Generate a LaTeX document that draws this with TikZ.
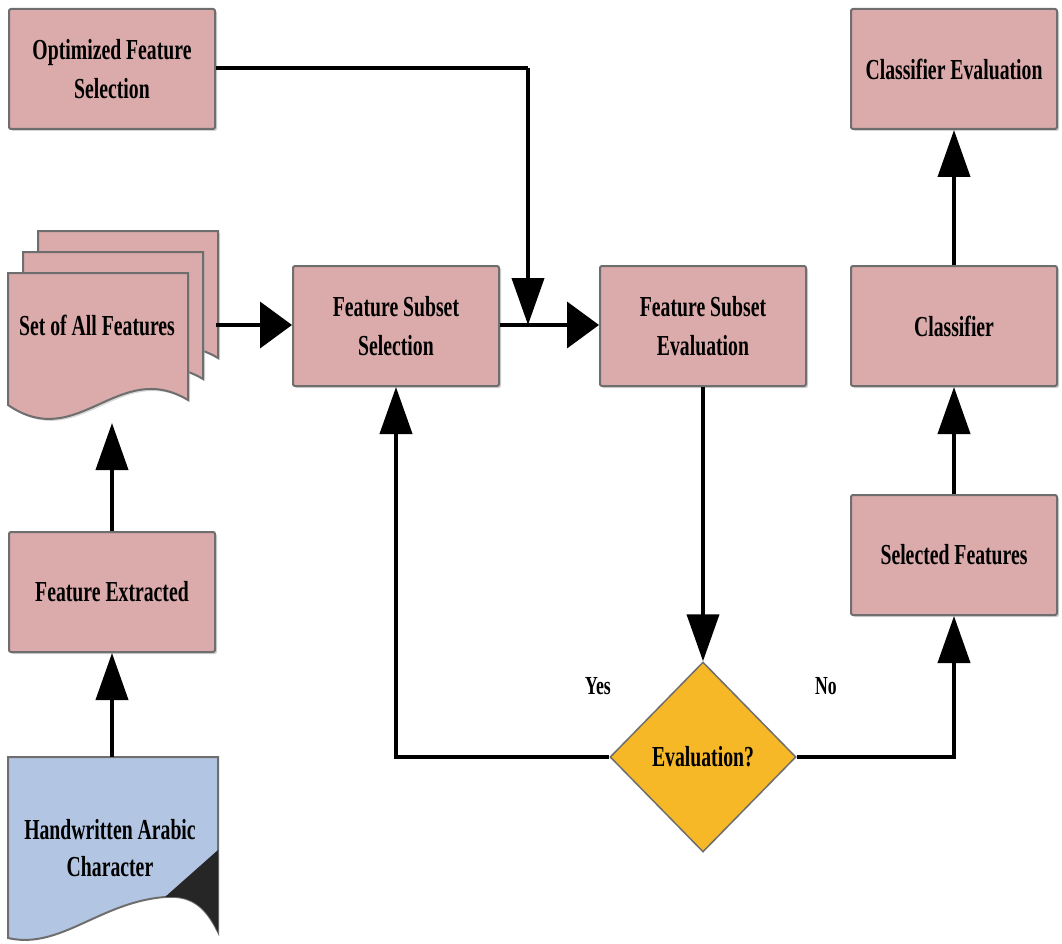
\documentclass[tikz,border=0pt]{standalone}
\usepackage{fontspec}
\newfontfamily\lab[FakeStretch=0.68]{Liberation Serif}
\usetikzlibrary{arrows.meta,shapes.geometric,shadows}
\definecolor{boxpink}{RGB}{219,170,170}
\definecolor{boxblue}{RGB}{178,197,226}
\definecolor{diagold}{RGB}{247,184,40}
\definecolor{edgegray}{RGB}{110,110,110}
\tikzset{
  box/.style={draw=edgegray, line width=2pt, fill=boxpink, rounded corners=2pt,
    minimum width=206pt, minimum height=120pt, align=center, inner sep=0pt,
    drop shadow={opacity=0.35, shadow xshift=2pt, shadow yshift=-2pt},
    font=\lab\bfseries\fontsize{29}{39}\selectfont},
  docshape/.style={draw=edgegray, line width=2pt},
  txt/.style={align=center, inner sep=0pt, font=\lab\bfseries\fontsize{29}{37}\selectfont},
  lbl/.style={inner sep=0pt, font=\lab\bfseries\fontsize{26}{30}\selectfont},
  conn/.style={line width=4pt, draw=black},
  varr/.style={conn, -{Triangle[length=47pt,width=32pt]}},
  harr/.style={conn, -{Triangle[length=32pt,width=46pt]}},
  decision/.style={diamond, draw=edgegray, line width=1.5pt, fill=diagold,
    minimum width=186pt, minimum height=190pt, inner sep=0pt,
    font=\lab\bfseries\fontsize{29}{30}\selectfont},
}
\begin{document}
\begin{tikzpicture}[x=1pt,y=-1pt]
\useasboundingbox (0,0) rectangle (1062,944);

% boxes
\node[box] (opt) at (112,69) {Optimized Feature\\Selection};
\node[box] (cev) at (954,69) {Classifier Evaluation};
\node[box] (fss) at (396,326) {Feature Subset\\Selection};
\node[box] (fse) at (703,326) {Feature Subset\\Evaluation};
\node[box] (cls) at (954,326) {Classifier};
\node[box] (sel) at (954,555) {Selected Features};
\node[box] (fex) at (112,592) {Feature Extracted};

% multi-document: Set of All Features
\foreach \dx/\dy in {30/-42,15/-21,0/0}{
  \begin{scope}[shift={(\dx,\dy)}]
    \fill[gray!60,opacity=0.5] (10,275) -- (190,275) -- (190,402)
      .. controls (120,360) and (80,455) .. (10,407) -- cycle;
    \draw[docshape, fill=boxpink] (8,273) -- (188,273) -- (188,400)
      .. controls (118,358) and (78,453) .. (8,405) -- cycle;
  \end{scope}
}
\node[txt] (setall) at (97,325) {Set of All Features};
\coordinate (setbot) at (112,423);
\coordinate (setright) at (216,325);

% document: Handwritten Arabic Character
\draw[docshape, fill=boxblue] (8,757) -- (218,757) -- (218,932)
  .. controls (205,905) and (190,895) .. (165,897)
  .. controls (100,902) and (60,950) .. (8,938) -- cycle;
\fill[black!85] (218,850) -- (165,897)
  .. controls (190,895) and (205,905) .. (218,932) -- cycle;
\node[txt] (hw) at (110,848) {Handwritten Arabic\\Character};
\coordinate (hwtop) at (112,757);

% decision
\node[decision] (dec) at (703,757) {Evaluation?};
\node[lbl] (yes) at (598,686) {Yes};
\node[lbl] (no) at (826,686) {No};

% junction on the line between fss and fse
\coordinate (join) at (528,325);
\coordinate (optcorner) at (528,68);

% connectors
\draw[varr] (hwtop) -- (fex.south);
\draw[varr] (fex.north) -- (setbot);
\draw[harr] (setright) -- (fss.west |- setright);
\draw[conn] (opt.east |- optcorner) -- (optcorner);
\draw[varr] (optcorner) -- (join);
\draw[harr] (fss.east |- join) -- (fse.west |- join);
\draw[varr] (fse.south) -- (dec.north);
\draw[varr] (dec.west) -| (fss.south);
\draw[varr] (dec.east) -| (sel.south);
\draw[varr] (sel.north) -- (cls.south);
\draw[varr] (cls.north) -- (cev.south);
\end{tikzpicture}
\end{document}
